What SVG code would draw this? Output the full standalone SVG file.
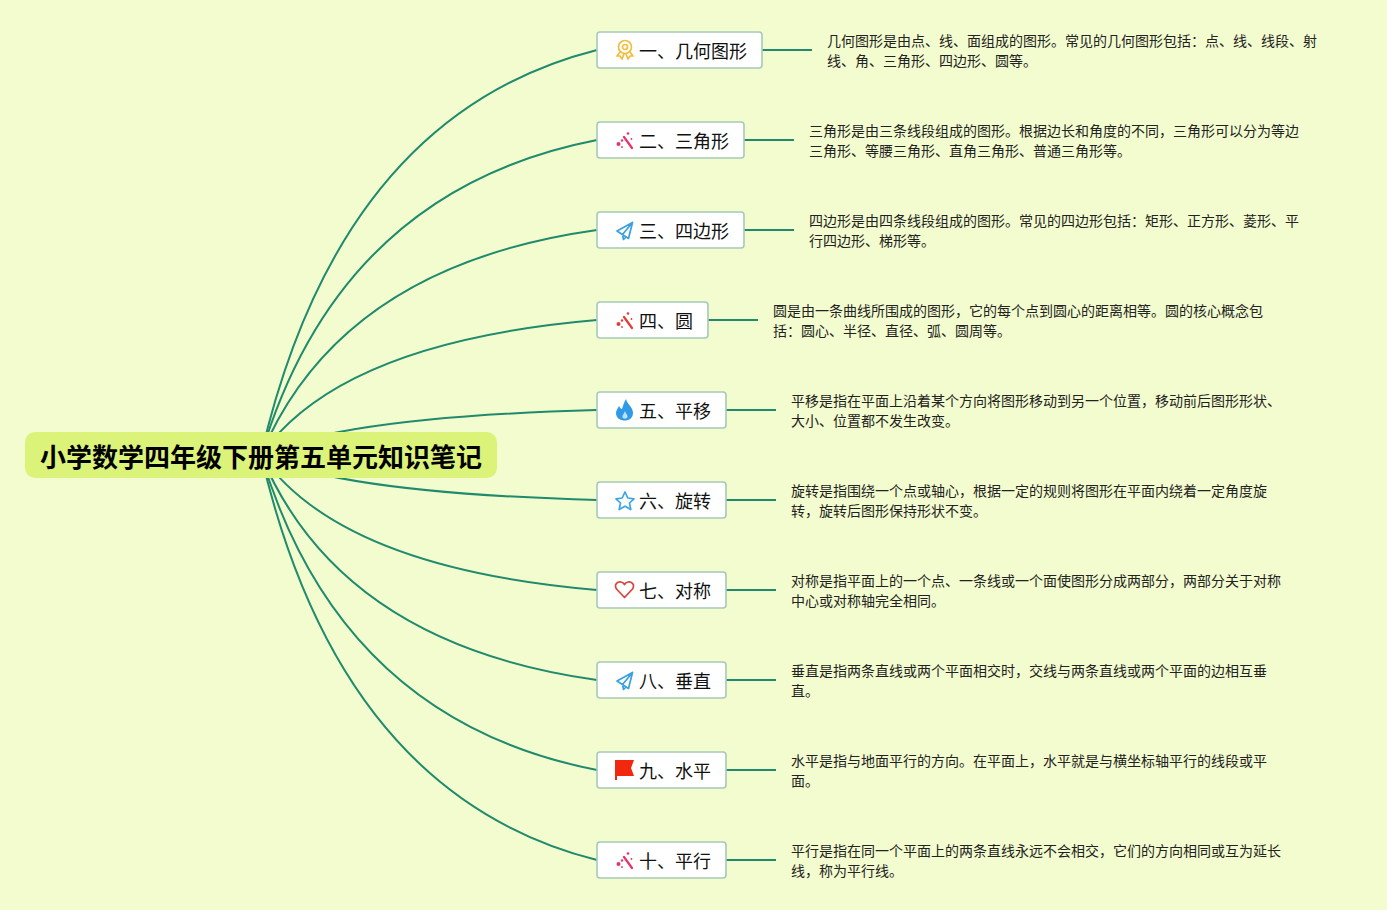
<svg xmlns="http://www.w3.org/2000/svg" width="1387" height="910" viewBox="0 0 1387 910">
<style>
.c{fill:none;stroke:#1f8a6c;stroke-width:2}
.b{fill:#fff;stroke:#a6c9b8;stroke-width:1.600}
.t{font-family:"Noto Sans CJK SC",sans-serif;font-size:18px;fill:#111}
.d{font-family:"Noto Sans CJK SC",sans-serif;font-size:14px;fill:#222}
.r{font-family:"Noto Sans CJK SC",sans-serif;font-size:26px;font-weight:700;fill:#000}
.i{fill:none;stroke-width:1.700;stroke-linejoin:round;stroke-linecap:round}
</style>
<defs>
<g id="wand"><path d="M8 5L16 16" stroke-width="2.200" fill="none" stroke-linecap="round"/><circle cx="2.500" cy="12" r="2" stroke="none"/><circle cx="6" cy="8.500" r="1.200" stroke="none"/><circle cx="6" cy="15" r="0.900" stroke="none"/><circle cx="12" cy="1.500" r="1.300" stroke="none"/><circle cx="15.500" cy="7" r="0.900" stroke="none"/></g>
<g id="plane"><path class="i" d="M1 9L16.500 0.500L12.500 16.500ZM16.500 0.500L6.500 12.500L7.500 17.500L10 15" stroke="#3aa0e0"/></g>
</defs>
<rect width="1387" height="910" fill="#f3fccf"/>
<g id="connectors">
<path class="c" d="M261 455Q340 115 597 50"/>
<path class="c" d="M261 455Q340 190 597 140"/>
<path class="c" d="M261 455Q340 266 597 230"/>
<path class="c" d="M261 455Q340 342 597 320"/>
<path class="c" d="M261 455Q340 417 597 410"/>
<path class="c" d="M261 455Q340 493 597 500"/>
<path class="c" d="M261 455Q340 568 597 590"/>
<path class="c" d="M261 455Q340 644 597 680"/>
<path class="c" d="M261 455Q340 720 597 770"/>
<path class="c" d="M261 455Q340 795 597 860"/>
<path class="c" d="M762 50H812M744 140H794M744 230H794M708 320H758M726 410H776M726 500H776M726 590H776M726 680H776M726 770H776M726 860H776"/>
</g>
<g id="root"><rect x="25" y="432" width="472" height="46" rx="10" fill="#dcf37a"/><text class="r" x="40" y="467">小学数学四年级下册第五单元知识笔记</text></g>
<g id="n1"><rect class="b" x="597" y="32" width="165" height="36" rx="3"/>
<g transform="translate(616,40)"><circle class="i" cx="9" cy="7" r="6.500" stroke="#f3bd3c"/><circle class="i" cx="9" cy="7" r="2.500" stroke="#f3bd3c"/><path class="i" stroke="#f3bd3c" d="M4 12L1 16L4 16L6 19L8 14M14 12L17 16L14 16L12 19L10 14"/></g>
<text class="t" x="639" y="58">一、几何图形</text>
<text class="d" x="827" y="46">几何图形是由点、线、面组成的图形。常见的几何图形包括：点、线、线段、射</text>
<text class="d" x="827" y="66">线、角、三角形、四边形、圆等。</text></g>
<g id="n2"><rect class="b" x="597" y="122" width="147" height="36" rx="3"/>
<use href="#wand" x="616" y="132" fill="#e8326a" stroke="#e8326a"/>
<text class="t" x="639" y="148">二、三角形</text>
<text class="d" x="809" y="136">三角形是由三条线段组成的图形。根据边长和角度的不同，三角形可以分为等边</text>
<text class="d" x="809" y="156">三角形、等腰三角形、直角三角形、普通三角形等。</text></g>
<g id="n3"><rect class="b" x="597" y="212" width="147" height="36" rx="3"/>
<use href="#plane" x="616" y="222"/>
<text class="t" x="639" y="238">三、四边形</text>
<text class="d" x="809" y="226">四边形是由四条线段组成的图形。常见的四边形包括：矩形、正方形、菱形、平</text>
<text class="d" x="809" y="246">行四边形、梯形等。</text></g>
<g id="n4"><rect class="b" x="597" y="302" width="111" height="36" rx="3"/>
<use href="#wand" x="616" y="312" fill="#e23c35" stroke="#e23c35"/>
<text class="t" x="639" y="328">四、圆</text>
<text class="d" x="773" y="316">圆是由一条曲线所围成的图形，它的每个点到圆心的距离相等。圆的核心概念包</text>
<text class="d" x="773" y="336">括：圆心、半径、直径、弧、圆周等。</text></g>
<g id="n5"><rect class="b" x="597" y="392" width="129" height="36" rx="3"/>
<path d="M626 399C627 404 633 407 633 413C633 418 629 420.500 625 420.500C620 420.500 616 418 616 413C616 410 618 408 619 406C620 408 621 409 622 409C623 406 624 402 626 399Z" fill="#2f9be8"/>
<path d="M625 411C624 414 622 415 622.500 417.500C623 419 627 419 627.500 417C628 415 626 414 625 411Z" fill="#bfe0f7"/>
<text class="t" x="639" y="418">五、平移</text>
<text class="d" x="791" y="406">平移是指在平面上沿着某个方向将图形移动到另一个位置，移动前后图形形状、</text>
<text class="d" x="791" y="426">大小、位置都不发生改变。</text></g>
<g id="n6"><rect class="b" x="597" y="482" width="129" height="36" rx="3"/>
<path class="i" stroke="#3aa6e6" d="M625 492L627.800 498L634 498.800L629.500 503L630.800 509.500L625 506.300L619.200 509.500L620.500 503L616 498.800L622.200 498Z"/>
<text class="t" x="639" y="508">六、旋转</text>
<text class="d" x="791" y="496">旋转是指围绕一个点或轴心，根据一定的规则将图形在平面内绕着一定角度旋</text>
<text class="d" x="791" y="516">转，旋转后图形保持形状不变。</text></g>
<g id="n7"><rect class="b" x="597" y="572" width="129" height="36" rx="3"/>
<path class="i" stroke="#d8433a" d="M624.500 597.500L616.500 589C613.500 584 618 581.500 621 582C623 582.300 624 583.500 624.500 584.500C625 583.500 626 582.300 628 582C631 581.500 635.500 584 632.500 589Z"/>
<text class="t" x="639" y="598">七、对称</text>
<text class="d" x="791" y="586">对称是指平面上的一个点、一条线或一个面使图形分成两部分，两部分关于对称</text>
<text class="d" x="791" y="606">中心或对称轴完全相同。</text></g>
<g id="n8"><rect class="b" x="597" y="662" width="129" height="36" rx="3"/>
<use href="#plane" x="616" y="672"/>
<text class="t" x="639" y="688">八、垂直</text>
<text class="d" x="791" y="676">垂直是指两条直线或两个平面相交时，交线与两条直线或两个平面的边相互垂</text>
<text class="d" x="791" y="696">直。</text></g>
<g id="n9"><rect class="b" x="597" y="752" width="129" height="36" rx="3"/>
<path d="M615 760H634L631 768L634 776H617V780H615Z" fill="#f2280e"/>
<text class="t" x="639" y="778">九、水平</text>
<text class="d" x="791" y="766">水平是指与地面平行的方向。在平面上，水平就是与横坐标轴平行的线段或平</text>
<text class="d" x="791" y="786">面。</text></g>
<g id="n10"><rect class="b" x="597" y="842" width="129" height="36" rx="3"/>
<use href="#wand" x="616" y="852" fill="#e8326a" stroke="#e8326a"/>
<text class="t" x="639" y="868">十、平行</text>
<text class="d" x="791" y="856">平行是指在同一个平面上的两条直线永远不会相交，它们的方向相同或互为延长</text>
<text class="d" x="791" y="876">线，称为平行线。</text></g>
</svg>
